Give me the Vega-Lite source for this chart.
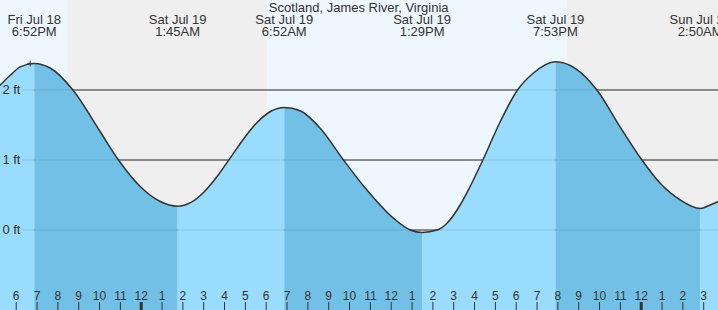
{
  "$schema": "https://vega.github.io/schema/vega-lite/v6.json",
  "width": 718,
  "height": 310,
  "autosize": {"type": "none"},
  "padding": 0,
  "config": {"view": {"stroke": null}},
  "resolve": {"scale": {"color": "independent", "strokeWidth": "independent"}},
  "datasets": {
    "bg": [
      {"h0": -7, "h1": -3.552, "t": "day"},
      {"h0": -3.552, "h1": 6.048, "t": "night"},
      {"h0": 6.048, "h1": 20.415, "t": "day"},
      {"h0": 20.415, "h1": 28, "t": "night"}
    ],
    "grid": [{"v": 0}, {"v": 1}, {"v": 2}],
    "ylab": [{"v": 2, "label": "2 ft"}, {"v": 1, "label": "1 ft"}, {"v": 0, "label": "0 ft"}],
    "hours": [
      {"h": -6, "label": "6"}, {"h": -5, "label": "7"}, {"h": -4, "label": "8"}, {"h": -3, "label": "9"},
      {"h": -2, "label": "10"}, {"h": -1, "label": "11"}, {"h": 0, "label": "12"}, {"h": 1, "label": "1"},
      {"h": 2, "label": "2"}, {"h": 3, "label": "3"}, {"h": 4, "label": "4"}, {"h": 5, "label": "5"},
      {"h": 6, "label": "6"}, {"h": 7, "label": "7"}, {"h": 8, "label": "8"}, {"h": 9, "label": "9"},
      {"h": 10, "label": "10"}, {"h": 11, "label": "11"}, {"h": 12, "label": "12"}, {"h": 13, "label": "1"},
      {"h": 14, "label": "2"}, {"h": 15, "label": "3"}, {"h": 16, "label": "4"}, {"h": 17, "label": "5"},
      {"h": 18, "label": "6"}, {"h": 19, "label": "7"}, {"h": 20, "label": "8"}, {"h": 21, "label": "9"},
      {"h": 22, "label": "10"}, {"h": 23, "label": "11"}, {"h": 24, "label": "12"}, {"h": 25, "label": "1"},
      {"h": 26, "label": "2"}, {"h": 27, "label": "3"}
    ],
    "fill": [
      {"seg": 0, "phase": "rise", "h": -6.8, "v": 2.06},
      {"seg": 0, "phase": "rise", "h": -6.288, "v": 2.21},
      {"seg": 0, "phase": "rise", "h": -5.808, "v": 2.33},
      {"seg": 0, "phase": "rise", "h": -5.133, "v": 2.38},
      {"seg": 1, "phase": "fall", "h": -5.133, "v": 2.38},
      {"seg": 1, "phase": "fall", "h": -4.368, "v": 2.314},
      {"seg": 1, "phase": "fall", "h": -3.278, "v": 2.0},
      {"seg": 1, "phase": "fall", "h": -1.968, "v": 1.404},
      {"seg": 1, "phase": "fall", "h": -1.09, "v": 1.0},
      {"seg": 1, "phase": "fall", "h": -0.048, "v": 0.621},
      {"seg": 1, "phase": "fall", "h": 0.912, "v": 0.407},
      {"seg": 1, "phase": "fall", "h": 1.75, "v": 0.34},
      {"seg": 2, "phase": "rise", "h": 1.75, "v": 0.34},
      {"seg": 2, "phase": "rise", "h": 2.39, "v": 0.394},
      {"seg": 2, "phase": "rise", "h": 3.029, "v": 0.547},
      {"seg": 2, "phase": "rise", "h": 3.669, "v": 0.775},
      {"seg": 2, "phase": "rise", "h": 4.309, "v": 1.045},
      {"seg": 2, "phase": "rise", "h": 4.948, "v": 1.315},
      {"seg": 2, "phase": "rise", "h": 5.588, "v": 1.543},
      {"seg": 2, "phase": "rise", "h": 6.227, "v": 1.696},
      {"seg": 2, "phase": "rise", "h": 6.867, "v": 1.75},
      {"seg": 3, "phase": "fall", "h": 6.867, "v": 1.75},
      {"seg": 3, "phase": "fall", "h": 7.632, "v": 1.704},
      {"seg": 3, "phase": "fall", "h": 8.592, "v": 1.453},
      {"seg": 3, "phase": "fall", "h": 9.71, "v": 1.0},
      {"seg": 3, "phase": "fall", "h": 10.834, "v": 0.571},
      {"seg": 3, "phase": "fall", "h": 12.11, "v": 0.167},
      {"seg": 3, "phase": "fall", "h": 12.912, "v": 0.0},
      {"seg": 3, "phase": "fall", "h": 13.483, "v": -0.035},
      {"seg": 4, "phase": "rise", "h": 13.483, "v": -0.035},
      {"seg": 4, "phase": "rise", "h": 14.21, "v": 0.0},
      {"seg": 4, "phase": "rise", "h": 14.69, "v": 0.1},
      {"seg": 4, "phase": "rise", "h": 15.31, "v": 0.357},
      {"seg": 4, "phase": "rise", "h": 15.7, "v": 0.571},
      {"seg": 4, "phase": "rise", "h": 16.402, "v": 1.0},
      {"seg": 4, "phase": "rise", "h": 17.232, "v": 1.547},
      {"seg": 4, "phase": "rise", "h": 18.062, "v": 2.0},
      {"seg": 4, "phase": "rise", "h": 18.816, "v": 2.24},
      {"seg": 4, "phase": "rise", "h": 19.883, "v": 2.404},
      {"seg": 5, "phase": "fall", "h": 19.883, "v": 2.404},
      {"seg": 5, "phase": "fall", "h": 20.832, "v": 2.31},
      {"seg": 5, "phase": "fall", "h": 21.874, "v": 2.0},
      {"seg": 5, "phase": "fall", "h": 22.992, "v": 1.47},
      {"seg": 5, "phase": "fall", "h": 24.034, "v": 1.0},
      {"seg": 5, "phase": "fall", "h": 24.912, "v": 0.667},
      {"seg": 5, "phase": "fall", "h": 25.872, "v": 0.429},
      {"seg": 5, "phase": "fall", "h": 26.833, "v": 0.307},
      {"seg": 6, "phase": "rise", "h": 26.833, "v": 0.307},
      {"seg": 6, "phase": "rise", "h": 27.312, "v": 0.357},
      {"seg": 6, "phase": "rise", "h": 27.72, "v": 0.41}
    ],
    "tide": [
      {"h": -6.8, "v": 2.06},
      {"h": -6.288, "v": 2.21},
      {"h": -5.808, "v": 2.33},
      {"h": -5.133, "v": 2.38},
      {"h": -4.368, "v": 2.314},
      {"h": -3.278, "v": 2.0},
      {"h": -1.968, "v": 1.404},
      {"h": -1.09, "v": 1.0},
      {"h": -0.048, "v": 0.621},
      {"h": 0.912, "v": 0.407},
      {"h": 1.75, "v": 0.34},
      {"h": 2.39, "v": 0.394},
      {"h": 3.029, "v": 0.547},
      {"h": 3.669, "v": 0.775},
      {"h": 4.309, "v": 1.045},
      {"h": 4.948, "v": 1.315},
      {"h": 5.588, "v": 1.543},
      {"h": 6.227, "v": 1.696},
      {"h": 6.867, "v": 1.75},
      {"h": 7.632, "v": 1.704},
      {"h": 8.592, "v": 1.453},
      {"h": 9.71, "v": 1.0},
      {"h": 10.834, "v": 0.571},
      {"h": 12.11, "v": 0.167},
      {"h": 12.912, "v": 0.0},
      {"h": 13.483, "v": -0.035},
      {"h": 14.21, "v": 0.0},
      {"h": 14.69, "v": 0.1},
      {"h": 15.31, "v": 0.357},
      {"h": 15.7, "v": 0.571},
      {"h": 16.402, "v": 1.0},
      {"h": 17.232, "v": 1.547},
      {"h": 18.062, "v": 2.0},
      {"h": 18.816, "v": 2.24},
      {"h": 19.883, "v": 2.404},
      {"h": 20.832, "v": 2.31},
      {"h": 21.874, "v": 2.0},
      {"h": 22.992, "v": 1.47},
      {"h": 24.034, "v": 1.0},
      {"h": 24.912, "v": 0.667},
      {"h": 25.872, "v": 0.429},
      {"h": 26.833, "v": 0.307},
      {"h": 27.312, "v": 0.357},
      {"h": 27.72, "v": 0.41}
    ],
    "events": [
      {"h": -5.133, "label": "Fri Jul 18\n6:52PM"},
      {"h": 1.75, "label": "Sat Jul 19\n1:45AM"},
      {"h": 6.867, "label": "Sat Jul 19\n6:52AM"},
      {"h": 13.483, "label": "Sat Jul 19\n1:29PM"},
      {"h": 19.883, "label": "Sat Jul 19\n7:53PM"},
      {"h": 26.833, "label": "Sun Jul 20\n2:50AM"}
    ],
    "now": [{"h": -5.328, "v": 2.38}],
    "title": [{"label": "Scotland, James River, Virginia"}]
  },
  "layer": [
    {
      "data": {"name": "bg"},
      "mark": {"type": "rect"},
      "encoding": {
        "x": {"field": "h0", "type": "quantitative", "scale": {"domain": [-6.778, 27.686], "nice": false, "zero": false}, "axis": null},
        "x2": {"field": "h1"},
        "y": {"datum": 3.285714, "type": "quantitative", "scale": {"domain": [-1.142857, 3.285714], "nice": false, "zero": false}, "axis": null},
        "y2": {"datum": -1.142857},
        "color": {"field": "t", "type": "nominal", "scale": {"domain": ["day", "night"], "range": ["#eef7fe", "#efefef"]}, "legend": null}
      }
    },
    {
      "data": {"name": "grid"},
      "mark": {"type": "rule", "color": "#333333", "strokeWidth": 1},
      "encoding": {
        "x": {"datum": -5.712, "type": "quantitative", "scale": {"domain": [-6.778, 27.686], "nice": false, "zero": false}, "axis": null},
        "x2": {"datum": 27.686},
        "y": {"field": "v", "type": "quantitative", "scale": {"domain": [-1.142857, 3.285714], "nice": false, "zero": false}, "axis": null}
      }
    },
    {
      "data": {"name": "fill"},
      "mark": {"type": "area", "interpolate": "monotone", "opacity": 1},
      "encoding": {
        "x": {"field": "h", "type": "quantitative", "scale": {"domain": [-6.778, 27.686], "nice": false, "zero": false}, "axis": null},
        "y": {"field": "v", "type": "quantitative", "scale": {"domain": [-1.142857, 3.285714], "nice": false, "zero": false}, "axis": null},
        "y2": {"datum": -1.142857},
        "color": {"field": "phase", "type": "nominal", "scale": {"domain": ["rise", "fall"], "range": ["#99dcfe", "#72c0e5"]}, "legend": null},
        "detail": {"field": "seg", "type": "nominal"}
      }
    },
    {
      "data": {"name": "grid"},
      "mark": {"type": "rule", "color": "#000000", "opacity": 0.1, "strokeWidth": 1},
      "encoding": {
        "x": {"datum": -5.712, "type": "quantitative", "scale": {"domain": [-6.778, 27.686], "nice": false, "zero": false}, "axis": null},
        "x2": {"datum": 27.686},
        "y": {"field": "v", "type": "quantitative", "scale": {"domain": [-1.142857, 3.285714], "nice": false, "zero": false}, "axis": null}
      }
    },
    {
      "data": {"name": "tide"},
      "mark": {"type": "line", "interpolate": "monotone", "color": "#333333", "strokeWidth": 1.5},
      "encoding": {
        "x": {"field": "h", "type": "quantitative", "scale": {"domain": [-6.778, 27.686], "nice": false, "zero": false}, "axis": null},
        "y": {"field": "v", "type": "quantitative", "scale": {"domain": [-1.142857, 3.285714], "nice": false, "zero": false}, "axis": null}
      }
    },
    {
      "data": {"name": "hours"},
      "mark": {"type": "rule", "color": "#333333"},
      "encoding": {
        "x": {"field": "h", "type": "quantitative", "scale": {"domain": [-6.778, 27.686], "nice": false, "zero": false}, "axis": null},
        "y": {"datum": -1.0286, "type": "quantitative", "scale": {"domain": [-1.142857, 3.285714], "nice": false, "zero": false}, "axis": null},
        "y2": {"datum": -1.142857},
        "strokeWidth": {"condition": {"test": "datum.h % 24 == 0", "value": 3}, "value": 1}
      }
    },
    {
      "data": {"name": "hours"},
      "mark": {"type": "text", "align": "center", "baseline": "alphabetic", "font": "Liberation Sans", "fontSize": 12, "color": "#333333"},
      "encoding": {
        "x": {"field": "h", "type": "quantitative", "scale": {"domain": [-6.778, 27.686], "nice": false, "zero": false}, "axis": null},
        "y": {"datum": -1.0, "type": "quantitative", "scale": {"domain": [-1.142857, 3.285714], "nice": false, "zero": false}, "axis": null},
        "text": {"field": "label"}
      }
    },
    {
      "data": {"name": "now"},
      "mark": {"type": "point", "shape": "M-1,0L1,0M0,-1L0,1", "size": 36, "filled": false, "stroke": "#333333", "strokeWidth": 1, "opacity": 1},
      "encoding": {
        "x": {"field": "h", "type": "quantitative", "scale": {"domain": [-6.778, 27.686], "nice": false, "zero": false}, "axis": null},
        "y": {"field": "v", "type": "quantitative", "scale": {"domain": [-1.142857, 3.285714], "nice": false, "zero": false}, "axis": null}
      }
    },
    {
      "data": {"name": "ylab"},
      "mark": {"type": "text", "align": "left", "baseline": "middle", "font": "Liberation Sans", "fontSize": 13, "color": "#333333"},
      "encoding": {
        "x": {"datum": -6.662, "type": "quantitative", "scale": {"domain": [-6.778, 27.686], "nice": false, "zero": false}, "axis": null},
        "y": {"field": "v", "type": "quantitative", "scale": {"domain": [-1.142857, 3.285714], "nice": false, "zero": false}, "axis": null},
        "text": {"field": "label"}
      }
    },
    {
      "data": {"name": "events"},
      "mark": {"type": "text", "align": "center", "baseline": "alphabetic", "font": "Liberation Sans", "fontSize": 13, "color": "#333333", "lineBreak": "\n", "lineHeight": 12.5},
      "encoding": {
        "x": {"field": "h", "type": "quantitative", "scale": {"domain": [-6.778, 27.686], "nice": false, "zero": false}, "axis": null},
        "y": {"datum": 2.943, "type": "quantitative", "scale": {"domain": [-1.142857, 3.285714], "nice": false, "zero": false}, "axis": null},
        "text": {"field": "label"}
      }
    },
    {
      "data": {"name": "title"},
      "mark": {"type": "text", "align": "center", "baseline": "alphabetic", "font": "Liberation Sans", "fontSize": 13, "color": "#333333"},
      "encoding": {
        "x": {"datum": 10.44, "type": "quantitative", "scale": {"domain": [-6.778, 27.686], "nice": false, "zero": false}, "axis": null},
        "y": {"datum": 3.114, "type": "quantitative", "scale": {"domain": [-1.142857, 3.285714], "nice": false, "zero": false}, "axis": null},
        "text": {"field": "label"}
      }
    }
  ]
}
